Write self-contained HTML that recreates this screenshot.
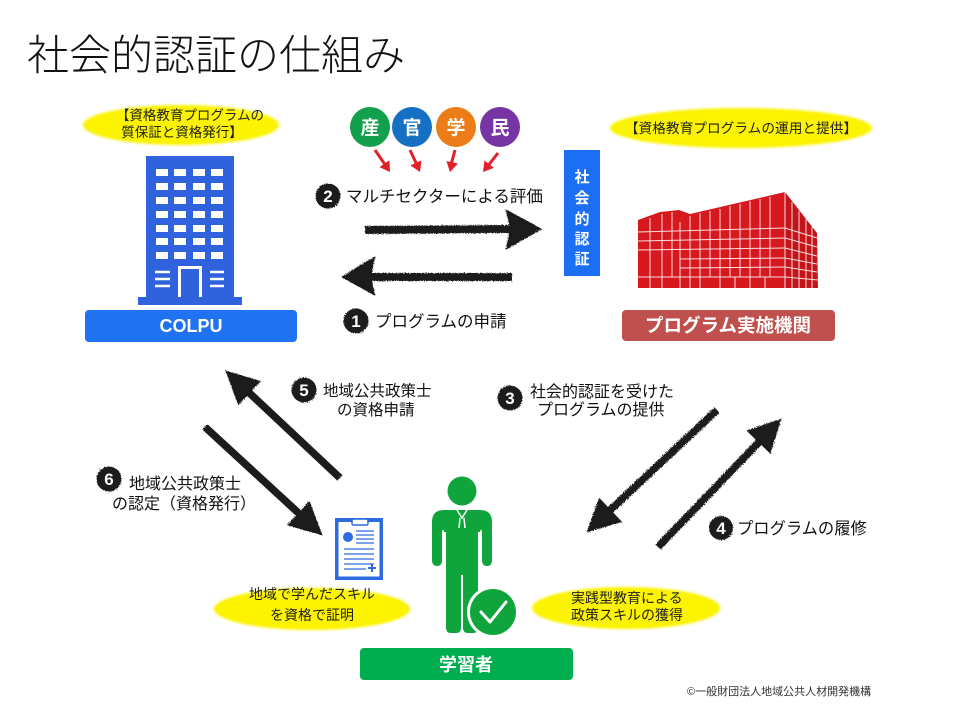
<!DOCTYPE html>
<html><head><meta charset="utf-8"><style>
html,body{margin:0;padding:0;background:#fff;}
svg{display:block;}
text{font-family:"Liberation Sans","Noto Sans CJK JP",sans-serif;}
</style></head><body>
<svg width="960" height="720" viewBox="0 0 960 720" xmlns="http://www.w3.org/2000/svg">
<defs>
<filter id="rough" x="-10%" y="-10%" width="120%" height="120%">
<feTurbulence type="fractalNoise" baseFrequency="0.9" numOctaves="2" seed="3" result="n"/>
<feDisplacementMap in="SourceGraphic" in2="n" scale="3"/>
</filter>
<filter id="soft"><feGaussianBlur stdDeviation="1.2"/></filter>
</defs>
<rect width="960" height="720" fill="#fff"/>

<!-- Title -->
<text x="27" y="70" font-size="42" font-weight="300" fill="#111">社会的認証の仕組み</text>

<!-- Top-left ellipse -->
<ellipse cx="181" cy="125" rx="98" ry="20" fill="#fbf300" filter="url(#soft)"/>
<text x="190" y="120" font-size="13.5" text-anchor="middle" fill="#222">【資格教育プログラムの</text>
<text x="182" y="137" font-size="13.5" text-anchor="middle" fill="#222">質保証と資格発行】</text>

<!-- Blue building -->
<g>
<rect x="146" y="156" width="88" height="144" fill="#2f62dc"/>
<g fill="#fff">
<rect x="156" y="169" width="12" height="7"/><rect x="174" y="169" width="12" height="7"/><rect x="193" y="169" width="12" height="7"/><rect x="211" y="169" width="12" height="7"/>
<rect x="156" y="183" width="12" height="7"/><rect x="174" y="183" width="12" height="7"/><rect x="193" y="183" width="12" height="7"/><rect x="211" y="183" width="12" height="7"/>
<rect x="156" y="197" width="12" height="7"/><rect x="174" y="197" width="12" height="7"/><rect x="193" y="197" width="12" height="7"/><rect x="211" y="197" width="12" height="7"/>
<rect x="156" y="211" width="12" height="7"/><rect x="174" y="211" width="12" height="7"/><rect x="193" y="211" width="12" height="7"/><rect x="211" y="211" width="12" height="7"/>
<rect x="156" y="225" width="12" height="7"/><rect x="174" y="225" width="12" height="7"/><rect x="193" y="225" width="12" height="7"/><rect x="211" y="225" width="12" height="7"/>
<rect x="156" y="238" width="12" height="7"/><rect x="174" y="238" width="12" height="7"/><rect x="193" y="238" width="12" height="7"/><rect x="211" y="238" width="12" height="7"/>
<rect x="156" y="252" width="12" height="7"/><rect x="174" y="252" width="12" height="7"/><rect x="193" y="252" width="12" height="7"/><rect x="211" y="252" width="12" height="7"/>
</g>
<path d="M179.5,300 V267.5 H200.5 V300" fill="none" stroke="#fff" stroke-width="3"/>
<g stroke="#fff" stroke-width="2.5">
<line x1="155" y1="272" x2="170" y2="272"/><line x1="155" y1="279" x2="170" y2="279"/><line x1="155" y1="286" x2="170" y2="286"/>
<line x1="210" y1="272" x2="224" y2="272"/><line x1="210" y1="279" x2="224" y2="279"/><line x1="210" y1="286" x2="224" y2="286"/>
</g>
<rect x="138" y="297" width="104" height="8" fill="#2f62dc"/>
</g>

<!-- COLPU bar -->
<rect x="85" y="310" width="212" height="32" rx="4" fill="#1f72f2"/>
<text x="191" y="332" font-size="18" font-weight="bold" text-anchor="middle" fill="#fff">COLPU</text>

<!-- Sector circles -->
<circle cx="370" cy="127" r="20" fill="#13a04c"/>
<circle cx="412" cy="127" r="20" fill="#1570c4"/>
<circle cx="456" cy="127" r="20" fill="#ec7c17"/>
<circle cx="500" cy="127" r="20" fill="#7634a4"/>
<g font-size="19" font-weight="bold" fill="#fff" text-anchor="middle">
<text x="370" y="134">産</text><text x="412" y="134">官</text><text x="456" y="134">学</text><text x="500" y="134">民</text>
</g>
<!-- Red arrows -->
<g stroke="#e2202a" stroke-width="3" fill="#e2202a">
<line x1="375" y1="150" x2="386" y2="166"/>
<line x1="410" y1="150" x2="417" y2="165"/>
<line x1="455" y1="150" x2="451" y2="165"/>
<line x1="498" y1="153" x2="487" y2="167"/>
</g>
<g fill="#e2202a">
<polygon points="390,172 379.4,167.1 389.4,160.3"/>
<polygon points="420,172 410.4,165.4 421.4,160.4"/>
<polygon points="450,172 446.4,161 458,163.6"/>
<polygon points="483,172 484.5,160.5 493.9,167.9"/>
</g>

<!-- Step 2 label -->
<circle cx="328" cy="196" r="12.5" fill="#1a1a1a" filter="url(#rough)"/>
<text x="328" y="202" font-size="17" font-weight="bold" text-anchor="middle" fill="#fff">2</text>
<text x="346" y="202" font-size="16.5" fill="#111">マルチセクターによる評価</text>

<!-- Horizontal arrows -->
<g filter="url(#rough)" fill="#1a1a1a" stroke="#1a1a1a">
<line x1="365" y1="230" x2="515" y2="229" stroke-width="8"/>
<polygon points="540,229 507,211 511,229 507,248" stroke-width="2"/>
<line x1="370" y1="277" x2="512" y2="277" stroke-width="8"/>
<polygon points="343,277 374,258 370,277 374,294" stroke-width="2"/>
</g>

<!-- Step 1 label -->
<circle cx="356" cy="321" r="12.5" fill="#1a1a1a" filter="url(#rough)"/>
<text x="356" y="327" font-size="17" font-weight="bold" text-anchor="middle" fill="#fff">1</text>
<text x="375" y="327" font-size="16.5" fill="#111">プログラムの申請</text>

<!-- Vertical box -->
<rect x="564" y="150" width="36" height="126" fill="#1c6ff4"/>
<g font-size="15" font-weight="bold" fill="#fff" text-anchor="middle">
<text x="582" y="182">社</text><text x="582" y="203">会</text><text x="582" y="224">的</text><text x="582" y="244">認</text><text x="582" y="264">証</text>
</g>

<!-- Top-right ellipse -->
<ellipse cx="741" cy="128" rx="131" ry="20" fill="#fbf300" filter="url(#soft)"/>
<text x="741" y="133" font-size="13.7" text-anchor="middle" fill="#222">【資格教育プログラムの運用と提供】</text>

<!-- Red building -->
<g>
<polygon points="638,220 660,212 679,210 690,214 785,192 785,288 638,288" fill="#d6191f"/>
<polygon points="785,192 817,233 818,288 785,288" fill="#c4141a"/>
<g stroke="#fff" stroke-width="1" opacity="0.85">
<line x1="638" y1="232" x2="785" y2="228"/>
<line x1="638" y1="241" x2="785" y2="238"/>
<line x1="638" y1="250" x2="785" y2="248"/>
<line x1="680" y1="259" x2="785" y2="258"/>
<line x1="680" y1="268" x2="785" y2="267"/>
<line x1="638" y1="277" x2="785" y2="277"/>
<line x1="785" y1="228" x2="817" y2="238"/>
<line x1="785" y1="238" x2="817" y2="247"/>
<line x1="785" y1="248" x2="817" y2="256"/>
<line x1="785" y1="258" x2="817" y2="264"/>
<line x1="785" y1="267" x2="817" y2="272"/>
<line x1="785" y1="277" x2="818" y2="280"/>
<line x1="680" y1="222" x2="680" y2="288"/>
<line x1="690" y1="216" x2="690" y2="288"/>
<line x1="700" y1="213" x2="700" y2="277"/>
<line x1="710" y1="211" x2="710" y2="277"/>
<line x1="720" y1="209" x2="720" y2="288"/>
<line x1="730" y1="206" x2="730" y2="277"/>
<line x1="740" y1="204" x2="740" y2="277"/>
<line x1="750" y1="201" x2="750" y2="288"/>
<line x1="760" y1="199" x2="760" y2="277"/>
<line x1="770" y1="197" x2="770" y2="277"/>
<line x1="785" y1="192" x2="785" y2="288"/>
<line x1="792" y1="202" x2="792" y2="288"/>
<line x1="799" y1="211" x2="799" y2="288"/>
<line x1="806" y1="219" x2="806" y2="288"/>
<line x1="812" y1="227" x2="812" y2="288"/>
<line x1="650" y1="218" x2="650" y2="288"/>
<line x1="662" y1="214" x2="662" y2="288"/>
<line x1="672" y1="212" x2="672" y2="277"/>
<line x1="700" y1="277" x2="700" y2="288"/>
<line x1="735" y1="277" x2="735" y2="288"/>
<line x1="765" y1="277" x2="765" y2="288"/>
</g>
</g>

<!-- Red bar -->
<rect x="622" y="310" width="213" height="31" rx="4" fill="#c0504d"/>
<text x="728" y="332" font-size="18.5" font-weight="bold" text-anchor="middle" fill="#fff">プログラム実施機関</text>

<!-- Diagonal arrows -->
<g filter="url(#rough)" fill="#1a1a1a" stroke="#1a1a1a">
<line x1="340" y1="478" x2="243" y2="387" stroke-width="7.5"/>
<polygon points="227,372 259.2,381.6 238.6,403.4" stroke-width="2"/>
<line x1="205" y1="427" x2="305" y2="519" stroke-width="7.5"/>
<polygon points="321,534 288.7,524.7 309.1,502.7" stroke-width="2"/>
<line x1="717" y1="410" x2="604" y2="516" stroke-width="7.5"/>
<polygon points="588,531 599.6,499.6 620.2,521.4" stroke-width="2"/>
<line x1="658" y1="547" x2="765" y2="436" stroke-width="7.5"/>
<polygon points="780,420 770,452 748.4,431.2" stroke-width="2"/>
</g>

<!-- Step 5 -->
<circle cx="304" cy="390" r="12.5" fill="#1a1a1a" filter="url(#rough)"/>
<text x="304" y="396" font-size="17" font-weight="bold" text-anchor="middle" fill="#fff">5</text>
<text x="323" y="396" font-size="15.5" fill="#111">地域公共政策士</text>
<text x="337" y="415" font-size="15.5" fill="#111">の資格申請</text>

<!-- Step 6 -->
<circle cx="109" cy="479" r="12.5" fill="#1a1a1a" filter="url(#rough)"/>
<text x="109" y="485" font-size="17" font-weight="bold" text-anchor="middle" fill="#fff">6</text>
<text x="129" y="489" font-size="16" fill="#111">地域公共政策士</text>
<text x="112" y="509" font-size="16" fill="#111">の認定（資格発行）</text>

<!-- Step 3 -->
<circle cx="510" cy="398" r="12.5" fill="#1a1a1a" filter="url(#rough)"/>
<text x="510" y="404" font-size="17" font-weight="bold" text-anchor="middle" fill="#fff">3</text>
<text x="530" y="397" font-size="16" fill="#111">社会的認証を受けた</text>
<text x="537" y="415" font-size="16" fill="#111">プログラムの提供</text>

<!-- Step 4 -->
<circle cx="721" cy="528" r="12" fill="#1a1a1a" filter="url(#rough)"/>
<text x="721" y="534" font-size="17" font-weight="bold" text-anchor="middle" fill="#fff">4</text>
<text x="737" y="534" font-size="16.3" fill="#111">プログラムの履修</text>

<!-- Document icon -->
<g>
<rect x="335" y="518" width="48" height="62" fill="#2d6be0"/>
<rect x="338.5" y="522" width="41" height="54.5" fill="#fff"/>
<rect x="352" y="519" width="16" height="6" rx="1.5" fill="#fff" stroke="#2d6be0" stroke-width="1.5"/>
<circle cx="348" cy="537" r="5" fill="#2d6be0"/>
<g stroke="#2d6be0" stroke-width="1.2">
<line x1="356" y1="531" x2="374" y2="531"/><line x1="356" y1="535" x2="374" y2="535"/><line x1="356" y1="539" x2="374" y2="539"/><line x1="356" y1="543" x2="374" y2="543"/>
<line x1="344" y1="549" x2="374" y2="549"/><line x1="344" y1="554" x2="374" y2="554"/><line x1="344" y1="559" x2="374" y2="559"/><line x1="344" y1="564" x2="374" y2="564"/><line x1="344" y1="569" x2="366" y2="569"/>
</g>
<g stroke="#2d6be0" stroke-width="2"><line x1="368" y1="568" x2="376" y2="568"/><line x1="372" y1="564" x2="372" y2="572"/></g>
</g>

<!-- Bottom-left ellipse -->
<ellipse cx="312" cy="609" rx="98" ry="21" fill="#fbf300" filter="url(#soft)"/>
<text x="312" y="599" font-size="14" text-anchor="middle" fill="#222">地域で学んだスキル</text>
<text x="312" y="620" font-size="14" text-anchor="middle" fill="#222">を資格で証明</text>

<!-- Person -->
<g fill="#10a43c">
<circle cx="462" cy="491" r="14.5"/>
<path d="M432,560 V522 Q432,510 444,510 H480 Q492,510 492,522 V560 Q492,566 487,566 Q482,566 482,560 V532 H478 V575 H446 V532 H442 V560 Q442,566 437,566 Q432,566 432,560 Z"/>
<path d="M446,573 H461 V628 Q461,633 456,633 H451 Q446,633 446,628 Z"/>
<path d="M463,573 H478 V628 Q478,633 473,633 H468 Q463,633 463,628 Z"/>
</g>
<g stroke="#fff" stroke-width="1.5" fill="none">
<line x1="443" y1="530" x2="443" y2="565"/><line x1="481" y1="530" x2="481" y2="565"/>
<path d="M457,510 L462,518 L467,510"/>
<path d="M460,518 L459,528 M464,518 L465,528"/>
</g>
<circle cx="493" cy="612" r="26" fill="#fff"/>
<circle cx="493" cy="612" r="23" fill="#10a43c"/>
<polyline points="481,612 490,622 506,602" fill="none" stroke="#fff" stroke-width="3" stroke-linecap="round" stroke-linejoin="round"/>

<!-- Learner bar -->
<rect x="360" y="648" width="213" height="32" rx="4" fill="#00ae4f"/>
<text x="466" y="671" font-size="18" font-weight="bold" text-anchor="middle" fill="#fff">学習者</text>

<!-- Bottom-right ellipse -->
<ellipse cx="626" cy="608" rx="94" ry="21" fill="#fbf300" filter="url(#soft)"/>
<text x="571" y="603" font-size="14" fill="#222">実践型教育による</text>
<text x="571" y="620" font-size="14" fill="#222">政策スキルの獲得</text>

<!-- Copyright -->
<text x="687" y="695" font-size="11" fill="#333">©一般財団法人地域公共人材開発機構</text>
</svg>
</body></html>
